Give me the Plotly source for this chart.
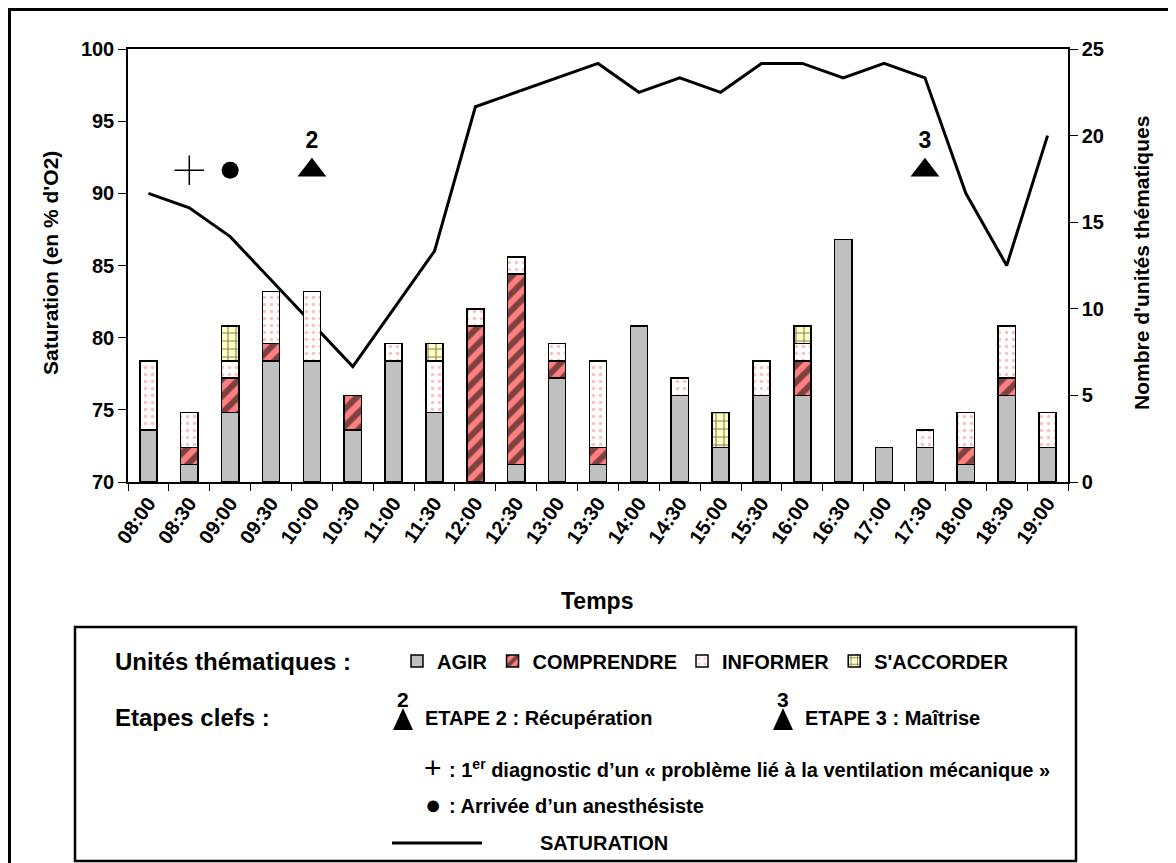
import plotly.graph_objects as go

# Données
temps = ["08:00", "08:30", "09:00", "09:30", "10:00", "10:30", "11:00", "11:30",
         "12:00", "12:30", "13:00", "13:30", "14:00", "14:30", "15:00", "15:30",
         "16:00", "16:30", "17:00", "17:30", "18:00", "18:30", "19:00"]
agir = [3, 1, 4, 7, 7, 3, 7, 4, 0, 1, 6, 1, 9, 5, 2, 5, 5, 14, 2, 2, 1, 5, 2]
comprendre = [0, 1, 2, 1, 0, 2, 0, 0, 9, 11, 1, 1, 0, 0, 0, 0, 2, 0, 0, 0, 1, 1, 0]
informer = [4, 2, 1, 3, 4, 0, 1, 3, 1, 1, 1, 5, 0, 1, 0, 2, 1, 0, 0, 1, 2, 3, 2]
s_accorder = [0, 0, 2, 0, 0, 0, 0, 1, 0, 0, 0, 0, 0, 0, 2, 0, 1, 0, 0, 0, 0, 0, 0]
saturation = [90, 89, 87, 84, 81, 78, 82, 86, 96, 97, 98, 99, 97, 98, 97, 99,
              99, 98, 99, 98, 90, 85, 94]

diag_temps = ["08:30"]        # +
anesth_temps = ["09:00"]      # ●
etapes_temps = ["10:00", "17:30"]
etapes_labels = ["2", "3"]
niveau_evenements = 91.6

FONT = "Liberation Sans, Arial, sans-serif"
OFF = 8                       # marge du <body> de la page
W, H = 1176 - OFF, 863 - OFF
L, R, T, B = 128, 1068, 49, 482   # zone de tracé (pixels de la page)


def px(x):
    return (x - L) / (R - L)


def py(y):
    return (B - y) / (B - T)


fig = go.Figure()

line_bar = dict(color="black", width=1.5)
fig.add_trace(go.Bar(
    x=temps, y=agir, name="AGIR", yaxis="y2", width=0.42,
    marker=dict(color="#C0C0C0", line=line_bar),
))
fig.add_trace(go.Bar(
    x=temps, y=comprendre, name="COMPRENDRE", yaxis="y2", width=0.42,
    marker=dict(color="#FF8080", line=line_bar,
                pattern=dict(shape="/", fgcolor="black", bgcolor="#FF8080",
                             size=12, solidity=0.5)),
))
fig.add_trace(go.Bar(
    x=temps, y=informer, name="INFORMER", yaxis="y2", width=0.42,
    marker=dict(color="white", line=line_bar,
                pattern=dict(shape=".", fgcolor="#FF8080", bgcolor="white",
                             size=7, solidity=0.2)),
))
fig.add_trace(go.Bar(
    x=temps, y=s_accorder, name="S'ACCORDER", yaxis="y2", width=0.42,
    marker=dict(color="#FFFFC0", line=line_bar,
                pattern=dict(shape="+", fgcolor="black", bgcolor="#FFFFC0",
                             size=8, solidity=0.25)),
))

# Saturation
fig.add_trace(go.Scatter(
    x=temps, y=saturation, mode="lines", name="SATURATION",
    line=dict(color="black", width=3), showlegend=False,
))

# Evènements
fig.add_trace(go.Scatter(
    x=diag_temps, y=[niveau_evenements] * len(diag_temps), mode="markers",
    marker=dict(symbol="cross-thin", size=21, line=dict(color="black", width=1.5)),
    showlegend=False,
))
fig.add_trace(go.Scatter(
    x=anesth_temps, y=[niveau_evenements] * len(anesth_temps), mode="markers",
    marker=dict(symbol="circle", size=17, color="black"),
    showlegend=False,
))
fig.add_trace(go.Scatter(
    x=etapes_temps, y=[niveau_evenements] * len(etapes_temps), mode="markers+text",
    text=etapes_labels, textposition="top center",
    textfont=dict(family=FONT, size=23, color="black", weight="bold"),
    marker=dict(symbol="triangle-up", size=25, color="black"),
    showlegend=False,
))

tick_font = dict(family=FONT, size=20, color="black", weight="bold")

fig.update_layout(
    width=W, height=H, autosize=False,
    margin=dict(l=L - OFF, r=1176 - R, t=T - OFF, b=863 - B),
    paper_bgcolor="white", plot_bgcolor="white",
    barmode="stack",
    font=dict(family=FONT, color="black"),
    xaxis=dict(
        type="category", tickangle=-55, tickfont=tick_font,
        ticks="outside", tickson="boundaries", ticklen=7, tickcolor="black",
        showline=True, linecolor="black", linewidth=1.5, mirror=True,
        showgrid=False, zeroline=False,
    ),
    yaxis=dict(
        range=[70, 100], dtick=5, tickfont=tick_font,
        ticks="outside", ticklen=8, tickcolor="black",
        showline=True, linecolor="black", linewidth=1.5,
        showgrid=False, zeroline=False,
    ),
    yaxis2=dict(
        range=[0, 25], dtick=5, overlaying="y", side="right", tickfont=tick_font,
        ticks="outside", ticklen=8, tickcolor="black",
        showline=True, linecolor="black", linewidth=1.5,
        showgrid=False, zeroline=False,
    ),
    legend=dict(
        orientation="h", x=px(397), y=py(661), xanchor="left", yanchor="middle",
        font=dict(family=FONT, size=20, color="black", weight="bold"),
        bgcolor="rgba(0,0,0,0)", traceorder="normal", itemclick=False,
    ),
)

bold = dict(family=FONT, color="black", weight="bold")
annotations = [
    dict(x=px(50), y=py(263), text="Saturation (en % d'O2)", textangle=-90,
         font=dict(size=21, **bold)),
    dict(x=px(1141), y=py(263), text="Nombre d'unités thématiques", textangle=-90,
         font=dict(size=21, **bold)),
    dict(x=px(597), y=py(601), text="Temps", font=dict(size=23, **bold)),
    dict(x=px(113), y=py(661), text="Unités thématiques :", xanchor="left",
         font=dict(size=24, **bold)),
    dict(x=px(113), y=py(717), text="Etapes clefs :", xanchor="left",
         font=dict(size=24, **bold)),
    dict(x=px(403), y=py(699), text="2", font=dict(size=21, **bold)),
    dict(x=px(423), y=py(718), text="ETAPE 2 : Récupération", xanchor="left",
         font=dict(size=20, **bold)),
    dict(x=px(783), y=py(699), text="3", font=dict(size=21, **bold)),
    dict(x=px(803), y=py(718), text="ETAPE 3 : Maîtrise", xanchor="left",
         font=dict(size=20, **bold)),
    dict(x=px(433), y=py(767), text="+", font=dict(size=30, family=FONT, color="black")),
    dict(x=px(447), y=py(768),
         text=": 1<sup>er</sup> diagnostic d’un « problème lié à la ventilation mécanique »",
         xanchor="left", font=dict(size=20, **bold)),
    dict(x=px(433), y=py(805), text="●", font=dict(size=27, family=FONT, color="black")),
    dict(x=px(447), y=py(806), text=": Arrivée d’un anesthésiste", xanchor="left",
         font=dict(size=20, **bold)),
    dict(x=px(538), y=py(843), text="SATURATION", xanchor="left",
         font=dict(size=20, **bold)),
]
for a in annotations:
    a.setdefault("xanchor", "center")
    a.update(xref="paper", yref="paper", yanchor="middle", showarrow=False)
fig.update_layout(annotations=annotations)


def tri(cx, cy, w=20, h=22):
    return (f"M {px(cx - w / 2)} {py(cy + h / 2)} L {px(cx + w / 2)} {py(cy + h / 2)} "
            f"L {px(cx)} {py(cy - h / 2)} Z")


shapes = [
    # cadre extérieur
    dict(type="rect", x0=px(9.5), x1=px(1200), y0=py(9.5), y1=py(900),
         line=dict(color="black", width=3)),
    # cadre de la légende
    dict(type="rect", x0=px(75), x1=px(1076), y0=py(627), y1=py(861),
         line=dict(color="black", width=2.5)),
    # triangles de légende
    dict(type="path", path=tri(403, 719), fillcolor="black", line=dict(width=0)),
    dict(type="path", path=tri(783, 719), fillcolor="black", line=dict(width=0)),
    # ligne SATURATION
    dict(type="line", x0=px(392), x1=px(482), y0=py(843), y1=py(843),
         line=dict(color="black", width=3)),
]
for s in shapes:
    s.update(xref="paper", yref="paper")
fig.update_layout(shapes=shapes)

fig.write_html("out.html")
